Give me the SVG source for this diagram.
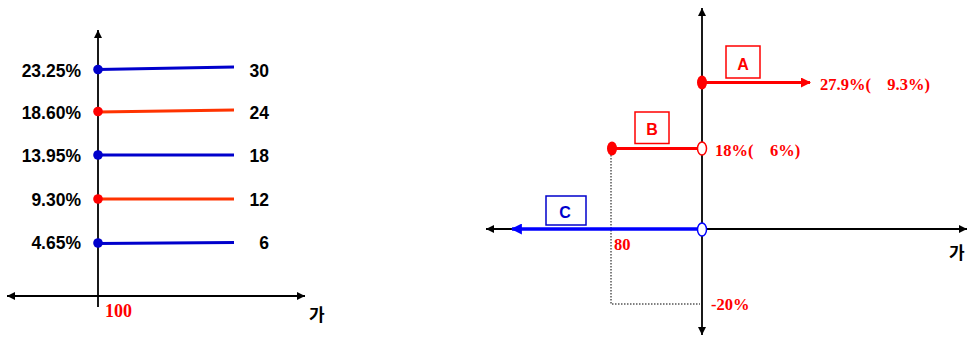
<svg xmlns="http://www.w3.org/2000/svg" width="969" height="338" viewBox="0 0 969 338">
<defs>
<marker id="ah" viewBox="0 0 10 10" refX="10" refY="5" markerWidth="10" markerHeight="8" markerUnits="userSpaceOnUse" orient="auto-start-reverse"><path d="M0,0 L10,5 L0,10 z" fill="#000"/></marker>
<marker id="ahr" viewBox="0 0 10 10" refX="9" refY="5" markerWidth="11" markerHeight="10" markerUnits="userSpaceOnUse" orient="auto"><path d="M0,0 L10,5 L0,10 z" fill="#FF0000"/></marker>
<marker id="ahb" viewBox="0 0 10 10" refX="9" refY="5" markerWidth="12" markerHeight="11" markerUnits="userSpaceOnUse" orient="auto"><path d="M0,0 L10,5 L0,10 z" fill="#0000FF"/></marker>
</defs>
<style>
.ax{stroke:#000;stroke-width:1.8;fill:none}
.lab{font-family:"Liberation Sans",Arial,sans-serif;font-weight:bold;font-size:17.5px;fill:#000}
.rt{font-family:"Liberation Serif","Times New Roman",serif;font-weight:bold;font-size:16.5px;fill:#FF0000;white-space:pre}
.big{font-size:18px}
.ko{font-family:"Noto Sans CJK KR","Noto Sans",sans-serif;font-weight:bold;font-size:17px;fill:#000}
.blue{stroke:#0000CC;stroke-width:3;fill:none}
.orange{stroke:#FF3300;stroke-width:3;fill:none}
.box{font-family:"Liberation Sans",Arial,sans-serif;font-weight:bold;font-size:16px;text-anchor:middle}
</style>
<g id="connectors">
<line class="ax" x1="98" y1="307" x2="98" y2="30" marker-end="url(#ah)"/>
<line class="ax" x1="7" y1="296" x2="305" y2="296" marker-start="url(#ah)" marker-end="url(#ah)"/>
<line class="ax" x1="702" y1="335" x2="702" y2="8" marker-start="url(#ah)" marker-end="url(#ah)"/>
<line class="ax" x1="486" y1="229" x2="967" y2="229" marker-start="url(#ah)" marker-end="url(#ah)"/>
<polyline points="611,152 611,304 700,304" fill="none" stroke="#000" stroke-width="1" stroke-dasharray="1.5,1.5"/>
</g>
<g id="line-30"><line class="blue" x1="98" y1="69.5" x2="234" y2="67"/><circle cx="98" cy="69.5" r="4.8" fill="#0000CC"/><text class="lab" x="81" y="77" text-anchor="end">23.25%</text><text class="lab" x="269" y="77" text-anchor="end">30</text></g>
<g id="line-24"><line class="orange" x1="98" y1="112" x2="234" y2="110"/><circle cx="98" cy="111.5" r="4.8" fill="#FF0000"/><text class="lab" x="81" y="119" text-anchor="end">18.60%</text><text class="lab" x="269" y="119" text-anchor="end">24</text></g>
<g id="line-18"><line class="blue" x1="98" y1="155" x2="234" y2="155"/><circle cx="98" cy="155" r="4.8" fill="#0000CC"/><text class="lab" x="81" y="162" text-anchor="end">13.95%</text><text class="lab" x="269" y="162" text-anchor="end">18</text></g>
<g id="line-12"><line class="orange" x1="98" y1="199" x2="234" y2="199"/><circle cx="98" cy="199" r="4.8" fill="#FF0000"/><text class="lab" x="81" y="206" text-anchor="end">9.30%</text><text class="lab" x="269" y="206" text-anchor="end">12</text></g>
<g id="line-6"><line class="blue" x1="98" y1="243.5" x2="234" y2="242.5"/><circle cx="98" cy="243" r="4.8" fill="#0000CC"/><text class="lab" x="81" y="249" text-anchor="end">4.65%</text><text class="lab" x="269" y="249" text-anchor="end">6</text></g>
<g id="left-axis-labels"><text class="rt big" x="105" y="317">100</text><text class="ko" x="309" y="321">가</text></g>
<g id="A">
<line x1="702" y1="82.5" x2="810" y2="82.5" stroke="#FF0000" stroke-width="3" marker-end="url(#ahr)"/>
<ellipse cx="702" cy="82.5" rx="5" ry="7" fill="#FF0000"/>
<rect x="726" y="46" width="34" height="32" fill="#fff" stroke="#FF0000" stroke-width="1.5"/>
<text class="box" x="743" y="70" fill="#FF0000">A</text>
<text class="rt" x="820" y="90" xml:space="preserve">27.9%(    9.3%)</text>
</g>
<g id="B">
<line x1="612" y1="148.5" x2="702" y2="148.5" stroke="#FF0000" stroke-width="3"/>
<ellipse cx="612" cy="148.5" rx="5" ry="7" fill="#FF0000"/>
<ellipse cx="702" cy="148.5" rx="4.5" ry="6.5" fill="#fff" stroke="#FF0000" stroke-width="1.5"/>
<rect x="635" y="112" width="34" height="31.5" fill="#fff" stroke="#FF0000" stroke-width="1.5"/>
<text class="box" x="652" y="135" fill="#FF0000">B</text>
<text class="rt" x="715" y="156" xml:space="preserve">18%(    6%)</text>
</g>
<g id="C">
<line x1="697" y1="229" x2="512" y2="229" stroke="#0000FF" stroke-width="3.5" marker-end="url(#ahb)"/>
<ellipse cx="702" cy="229.5" rx="4.5" ry="6.5" fill="#fff" stroke="#0000FF" stroke-width="1.5"/>
<rect x="546" y="196" width="40" height="29" fill="#fff" stroke="#0000CC" stroke-width="1.5"/>
<text class="box" x="565" y="218" fill="#0000CC">C</text>
</g>
<g id="right-axis-labels"><text class="rt" x="614" y="250">80</text><text class="rt" x="711" y="310">-20%</text><text class="ko" x="949" y="259">가</text></g>
</svg>
